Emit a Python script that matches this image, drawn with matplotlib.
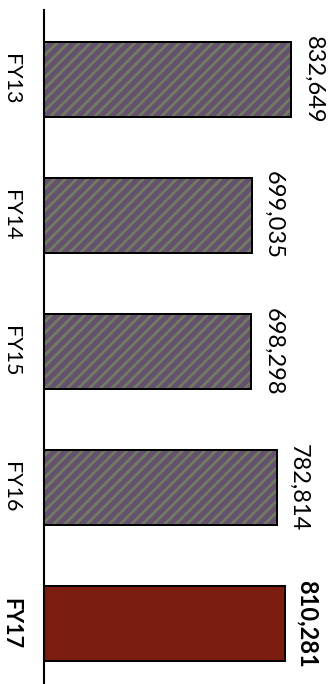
import matplotlib
matplotlib.use("Agg")
import matplotlib.pyplot as plt

# chart data (the chart is drawn turned a quarter turn, like the scan)
years = ["FY13", "FY14", "FY15", "FY16", "FY17"]
totals = [832649, 699035, 698298, 782814, 810281]
value_labels = ["832,649", "699,035", "698,298", "782,814", "810,281"]

plt.rcParams['font.family'] = ['Lato', 'DejaVu Sans']

fig = plt.figure(figsize=(3.32, 6.84), dpi=100)
ax = fig.add_axes([43.5 / 332, 0, 1 - 43.5 / 332, 674 / 684])

pos = list(range(len(years)))
faces = ["#66506f"] * 4 + ["#7a1c0e"]

# base fill with black outline
ax.barh(pos, totals, height=0.55, color=faces, edgecolor="black", linewidth=1.4, zorder=2)
# greenish diagonal texture on the older years, imitating the scan's pattern
plt.rcParams['hatch.linewidth'] = 2.0
ax.barh(pos[:4], totals[:4], height=0.55, fill=False, hatch="///",
        edgecolor="#6f7d5e", linewidth=0, zorder=3)
ax.barh(pos, totals, height=0.55, fill=False, edgecolor="black", linewidth=1.4, zorder=4)

ax.set_ylim(4.445, -0.511)
ax.set_xlim(0, 968800)

for i, (v, lab) in enumerate(zip(totals, value_labels)):
    ax.annotate(lab, (v, i), xytext=(8, 0), textcoords="offset points",
                rotation=-90, ha="left", va="center", fontsize=17,
                fontweight="bold" if i == 4 else "normal")

ax.set_yticks(pos)
ax.set_yticklabels(years, rotation=-90, va="center", ha="right", fontsize=15.5)
ax.get_yticklabels()[4].set_fontweight("bold")
ax.tick_params(axis="y", length=0, pad=16)
ax.set_xticks([])

for s in ["top", "right", "bottom"]:
    ax.spines[s].set_visible(False)
ax.spines["left"].set_linewidth(1.5)

fig.savefig("out.png", dpi=100)
